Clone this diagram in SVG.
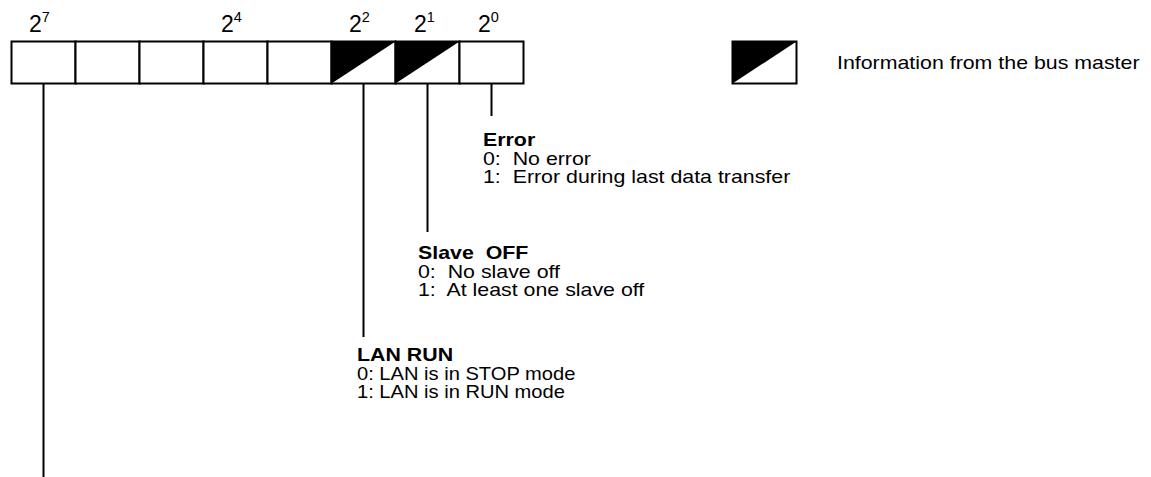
<svg xmlns="http://www.w3.org/2000/svg" width="1151" height="477" viewBox="0 0 1151 477">
<style>
text{font-family:"Liberation Sans",Arial,Helvetica,sans-serif;fill:#000;white-space:pre}
.d{font-size:17.5px}
.b{font-size:17.5px;font-weight:bold}
.p{font-size:23px}
.cell{fill:#fff;stroke:#000;stroke-width:2}
.tri{fill:#000;stroke:none}
.ln{stroke:#000;stroke-width:2;fill:none}
</style>
<rect width="1151" height="477" fill="#fff"/>
<g id="register">
<rect class="cell" x="11.5" y="41.5" width="64" height="42"/>
<rect class="cell" x="75.5" y="41.5" width="64" height="42"/>
<rect class="cell" x="139.5" y="41.5" width="64" height="42"/>
<rect class="cell" x="203.5" y="41.5" width="64" height="42"/>
<rect class="cell" x="267.5" y="41.5" width="64" height="42"/>
<rect class="cell" x="331.5" y="41.5" width="64" height="42"/>
<polygon class="tri" points="331.5,41.5 395.5,41.5 331.5,83.5"/>
<rect class="cell" x="395.5" y="41.5" width="64" height="42"/>
<polygon class="tri" points="395.5,41.5 459.5,41.5 395.5,83.5"/>
<rect class="cell" x="459.5" y="41.5" width="64" height="42"/>
</g>
<g id="bit-labels">
<text class="p" x="29" y="32">2<tspan font-size="14.5" dy="-10">7</tspan></text>
<text class="p" x="221" y="32">2<tspan font-size="14.5" dy="-10">4</tspan></text>
<text class="p" x="349" y="32">2<tspan font-size="14.5" dy="-10">2</tspan></text>
<text class="p" x="414" y="32">2<tspan font-size="14.5" dy="-10">1</tspan></text>
<text class="p" x="478" y="32">2<tspan font-size="14.5" dy="-10">0</tspan></text>
</g>
<g id="legend">
<rect class="cell" x="732.5" y="41.5" width="64" height="42"/>
<polygon class="tri" points="732.5,41.5 796.5,41.5 732.5,83.5"/>
<text class="d" transform="translate(837,68.5) scale(1.22,1)">Information from the bus master</text>
</g>
<g id="connectors">
<line class="ln" x1="43.5" y1="83.5" x2="43.5" y2="477"/>
<line class="ln" x1="363.5" y1="83.5" x2="363.5" y2="337"/>
<line class="ln" x1="427.5" y1="83.5" x2="427.5" y2="232"/>
<line class="ln" x1="491.5" y1="83.5" x2="491.5" y2="116"/>
</g>
<g id="error">
<text class="b" transform="translate(483,146) scale(1.22,1)">Error</text>
<text class="d" transform="translate(483,164.5) scale(1.22,1)">0:  No error</text>
<text class="d" transform="translate(483,183) scale(1.22,1)">1:  Error during last data transfer</text>
</g>
<g id="slave-off">
<text class="b" transform="translate(418,259) scale(1.22,1)">Slave  OFF</text>
<text class="d" transform="translate(418,277.5) scale(1.22,1)">0:  No slave off</text>
<text class="d" transform="translate(418,296) scale(1.22,1)">1:  At least one slave off</text>
</g>
<g id="lan-run">
<text class="b" transform="translate(357,361) scale(1.22,1)">LAN RUN</text>
<text class="d" transform="translate(357,379.5) scale(1.15,1)">0: LAN is in STOP mode</text>
<text class="d" transform="translate(357,398) scale(1.15,1)">1: LAN is in RUN mode</text>
</g>
</svg>
